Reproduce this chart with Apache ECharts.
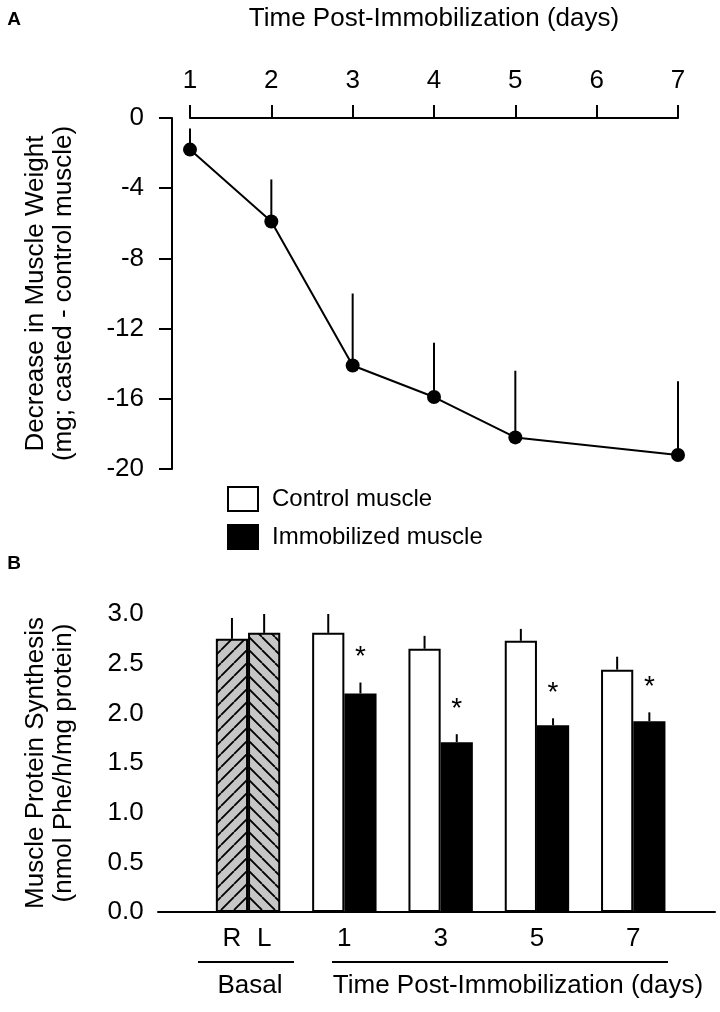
<!DOCTYPE html>
<html>
<head>
<meta charset="utf-8">
<script src="https://cdn.jsdelivr.net/npm/echarts@6/dist/echarts.min.js"></script>
<style>
  html, body { margin: 0; padding: 0; background: #fff; }
  #chart { width: 720px; height: 1012px; }
</style>
</head>
<body>
<div id="chart"></div>
<script>
// Panel A: decrease in muscle weight
const days = [1, 2, 3, 4, 5, 7]
const weightDecrease = [-1.8, -5.9, -14.1, -15.9, -18.2, -19.2]
const weightSE = [1.2, 2.4, 4.1, 3.1, 3.8, 4.2]

// Panel B: muscle protein synthesis (first group = basal R / L)
const groups = ['Basal', '1', '3', '5', '7']
const controlMean = [2.75, 2.81, 2.65, 2.73, 2.44]
const controlSE = [0.21, 0.19, 0.13, 0.12, 0.13]
const immobMean = [2.81, 2.20, 1.71, 1.88, 1.92]
const immobSE = [0.19, 0.11, 0.08, 0.07, 0.09]
const significant = [false, true, true, true, true]

const FONT = '"Liberation Sans", Arial, sans-serif'
const barW = 32.2

// diagonal hatch tile; shift lines so both basal bars meet as chevrons
function hatch(dir, shift) {
  const s = 13
  const c = document.createElement('canvas')
  c.width = s
  c.height = s
  const ctx = c.getContext('2d')
  ctx.fillStyle = '#c6c6c6'
  ctx.fillRect(0, 0, s, s)
  ctx.strokeStyle = '#000'
  ctx.lineWidth = 1.8
  ctx.beginPath()
  for (let k = -2; k <= 1; k++) {
    const x0 = k * s + shift
    if (dir > 0) { ctx.moveTo(x0, s); ctx.lineTo(x0 + s, 0) }
    else { ctx.moveTo(x0, 0); ctx.lineTo(x0 + s, s) }
  }
  ctx.stroke()
  return { image: c, repeat: 'repeat' }
}

function barErr(means, ses, side, stars) {
  return function (params, api) {
    const i = params.dataIndex
    const base = api.coord([i, means[i]])
    const top = api.coord([i, means[i] + ses[i]])
    const x = base[0] + side * barW / 2
    const children = [{
      type: 'line',
      shape: { x1: x, y1: base[1], x2: x, y2: top[1] },
      style: { stroke: '#000', lineWidth: 2 }
    }]
    if (stars && stars[i]) {
      children.push({
        type: 'text',
        x: x,
        y: top[1] - 25,
        style: { text: '*', fontSize: 28, fontFamily: FONT, fill: '#000', align: 'center', verticalAlign: 'middle' }
      })
    }
    return { type: 'group', children }
  }
}

const axisLine = { lineStyle: { color: '#000', width: 2 } }
const tickStyle = { length: 13, lineStyle: { color: '#000', width: 2 } }
const labelStyle = { color: '#000', fontSize: 26, fontFamily: FONT }

const chart = echarts.init(document.getElementById('chart'))

const option = {
  animation: false,
  backgroundColor: '#fff',
  textStyle: { fontFamily: FONT },
  grid: [
    { left: 190, right: 42, top: 118, height: 351 },
    { left: 199.9, right: 38.6, top: 614, height: 298 },
    { left: 158, right: 5, top: 911, height: 1 }
  ],
  legend: {
    data: ['Control muscle', 'Immobilized muscle'],
    orient: 'vertical',
    left: 227,
    top: 486,
    padding: 0,
    icon: 'rect',
    itemWidth: 30,
    itemHeight: 24,
    itemGap: 12,
    selectedMode: false,
    textStyle: { color: '#000', fontSize: 24, fontFamily: FONT, padding: [0, 0, 0, 9] }
  },
  xAxis: [
    {
      gridIndex: 0,
      type: 'value',
      position: 'top',
      offset: 4,
      min: 1,
      max: 7,
      interval: 1,
      name: 'Time Post-Immobilization (days)',
      nameLocation: 'middle',
      nameGap: 82,
      nameTextStyle: { color: '#000', fontSize: 26, fontFamily: FONT },
      axisLine,
      axisTick: tickStyle,
      axisLabel: Object.assign({ margin: 20 }, labelStyle),
      splitLine: { show: false }
    },
    {
      gridIndex: 1,
      type: 'category',
      data: groups,
      axisLine: { show: false },
      axisTick: { show: false },
      axisLabel: {
        interval: 0,
        margin: 14,
        color: '#000',
        fontSize: 26,
        fontFamily: FONT,
        formatter: v => v === 'Basal' ? '{s|R}{s|L}' : v,
        rich: { s: { width: barW, align: 'center', fontSize: 26, fontFamily: FONT, color: '#000' } }
      },
      splitLine: { show: false }
    },
    {
      gridIndex: 2,
      type: 'value',
      min: 0,
      max: 1,
      axisLine,
      axisTick: { show: false },
      axisLabel: { show: false },
      splitLine: { show: false }
    }
  ],
  yAxis: [
    {
      gridIndex: 0,
      type: 'value',
      min: -20,
      max: 0,
      interval: 4,
      offset: 18,
      name: 'Decrease in Muscle Weight\n(mg; casted - control muscle)',
      nameLocation: 'middle',
      nameRotate: 90,
      nameGap: 94,
      nameTextStyle: { color: '#000', fontSize: 26, fontFamily: FONT, lineHeight: 28 },
      axisLine,
      axisTick: tickStyle,
      axisLabel: Object.assign({ margin: 28 }, labelStyle),
      splitLine: { show: false }
    },
    {
      gridIndex: 1,
      type: 'value',
      min: 0,
      max: 3,
      interval: 0.5,
      offset: 28.2,
      name: 'Muscle Protein Synthesis\n(nmol Phe/h/mg protein)',
      nameLocation: 'middle',
      nameRotate: 90,
      nameGap: 94,
      nameTextStyle: { color: '#000', fontSize: 26, fontFamily: FONT, lineHeight: 28 },
      axisLine,
      axisTick: tickStyle,
      axisLabel: Object.assign({ margin: 28, formatter: v => v.toFixed(1) }, labelStyle),
      splitLine: { show: false }
    },
    {
      gridIndex: 2,
      type: 'value',
      show: false
    }
  ],
  series: [
    {
      type: 'custom',
      xAxisIndex: 0,
      yAxisIndex: 0,
      z: 2,
      data: days.map((d, i) => [d, weightDecrease[i], weightDecrease[i] + weightSE[i]]),
      renderItem: (params, api) => {
        const a = api.coord([api.value(0), api.value(1)])
        const b = api.coord([api.value(0), api.value(2)])
        return {
          type: 'line',
          shape: { x1: a[0], y1: a[1], x2: b[0], y2: b[1] },
          style: { stroke: '#000', lineWidth: 2 }
        }
      }
    },
    {
      type: 'line',
      xAxisIndex: 0,
      yAxisIndex: 0,
      z: 3,
      data: days.map((d, i) => [d, weightDecrease[i]]),
      symbol: 'circle',
      symbolSize: 14,
      itemStyle: { color: '#000' },
      lineStyle: { color: '#000', width: 2 }
    },
    {
      name: 'Control muscle',
      type: 'bar',
      xAxisIndex: 1,
      yAxisIndex: 1,
      barWidth: barW,
      barGap: '0%',
      itemStyle: { color: '#fff', borderColor: '#000', borderWidth: 2 },
      data: controlMean.map((v, i) => i === 0 ? { value: v, itemStyle: { color: hatch(1, 0) } } : v)
    },
    {
      name: 'Immobilized muscle',
      type: 'bar',
      xAxisIndex: 1,
      yAxisIndex: 1,
      barWidth: barW,
      barGap: '0%',
      itemStyle: { color: '#000', borderColor: '#000', borderWidth: 2 },
      data: immobMean.map((v, i) => i === 0 ? { value: v, itemStyle: { color: hatch(-1, 2) } } : v)
    },
    {
      type: 'custom',
      xAxisIndex: 1,
      yAxisIndex: 1,
      data: groups.map((g, i) => [i, controlMean[i] + controlSE[i]]),
      renderItem: barErr(controlMean, controlSE, -1)
    },
    {
      type: 'custom',
      xAxisIndex: 1,
      yAxisIndex: 1,
      data: groups.map((g, i) => [i, immobMean[i] + immobSE[i]]),
      renderItem: barErr(immobMean, immobSE, 1, significant)
    }
  ],
  graphic: [
    { type: 'text', x: 14, y: 20, style: { text: 'A', fontSize: 19, fontWeight: 'bold', fontFamily: FONT, fill: '#000', align: 'center', verticalAlign: 'middle' } },
    { type: 'text', x: 14, y: 564, style: { text: 'B', fontSize: 19, fontWeight: 'bold', fontFamily: FONT, fill: '#000', align: 'center', verticalAlign: 'middle' } },
    { type: 'line', shape: { x1: 198, y1: 962, x2: 294, y2: 962 }, style: { stroke: '#000', lineWidth: 2 } },
    { type: 'line', shape: { x1: 332, y1: 962, x2: 668, y2: 962 }, style: { stroke: '#000', lineWidth: 2 } },
    { type: 'text', x: 250, y: 986, style: { text: 'Basal', fontSize: 26, fontFamily: FONT, fill: '#000', align: 'center', verticalAlign: 'middle' } },
    { type: 'text', x: 518, y: 986, style: { text: 'Time Post-Immobilization (days)', fontSize: 26, fontFamily: FONT, fill: '#000', align: 'center', verticalAlign: 'middle' } }
  ]
}

chart.setOption(option)
window.addEventListener('resize', () => chart.resize())
</script>
</body>
</html>
